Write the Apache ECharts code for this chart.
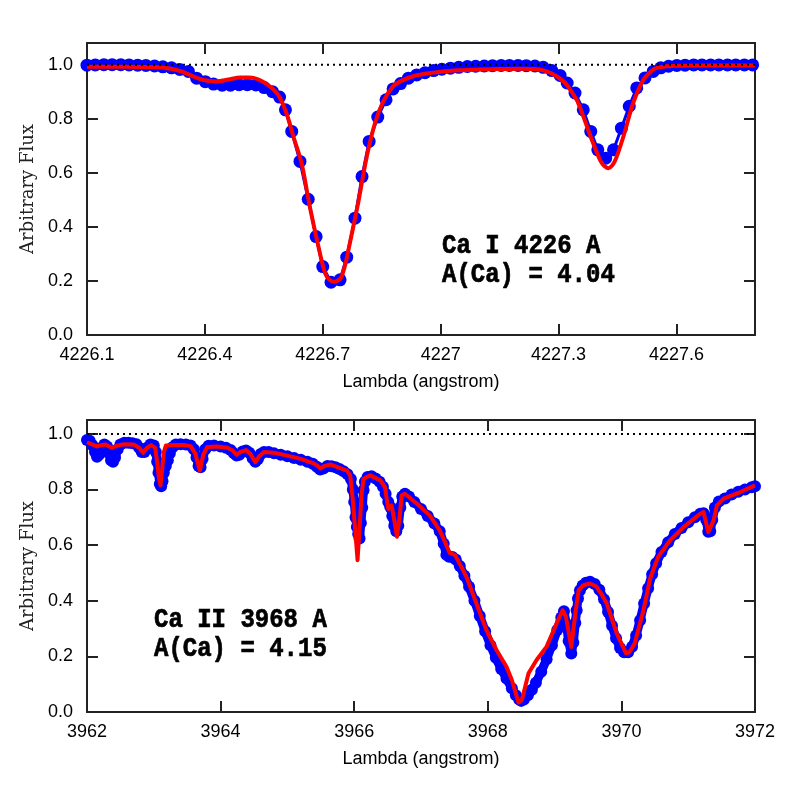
<!DOCTYPE html>
<html><head><meta charset="utf-8">
<script src="https://cdn.jsdelivr.net/npm/echarts@6/dist/echarts.min.js"></script>
<style>html,body{margin:0;padding:0;background:#fff}#c{width:797px;height:797px}</style>
</head><body><div id="c"></div>
<script>
// ---- Top panel: Ca I 4226 ----
const topObsX = [4226.100,4226.121,4226.143,4226.164,4226.186,4226.207,4226.229,4226.250,4226.272,4226.293,
4226.315,4226.336,4226.358,4226.379,4226.401,4226.422,4226.444,4226.465,4226.487,4226.508,
4226.530,4226.551,4226.572,4226.590,4226.605,4226.621,4226.642,4226.663,4226.683,4226.700,
4226.721,4226.744,4226.761,4226.782,4226.800,4226.818,4226.840,4226.861,4226.879,4226.898,
4226.918,4226.939,4226.960,4226.982,4227.003,4227.025,4227.046,4227.068,4227.089,4227.111,
4227.132,4227.154,4227.175,4227.197,4227.218,4227.240,4227.261,4227.283,4227.304,4227.322,
4227.342,4227.363,4227.382,4227.400,4227.420,4227.440,4227.460,4227.480,4227.499,4227.520,
4227.541,4227.560,4227.580,4227.601,4227.622,4227.644,4227.665,4227.687,4227.708,4227.730,
4227.751,4227.773,4227.794];
const topObsY = [0.998,0.999,1.000,1.000,1.000,0.999,0.998,0.997,0.995,0.992,
0.988,0.982,0.975,0.950,0.937,0.928,0.924,0.924,0.926,0.926,
0.925,0.915,0.900,0.880,0.833,0.753,0.642,0.502,0.364,0.253,
0.195,0.204,0.288,0.432,0.586,0.716,0.806,0.870,0.910,0.930,
0.950,0.962,0.970,0.978,0.983,0.987,0.990,0.993,0.994,0.995,
0.996,0.997,0.997,0.997,0.996,0.995,0.990,0.978,0.960,0.932,
0.895,0.833,0.753,0.685,0.654,0.685,0.765,0.846,0.914,0.951,
0.975,0.988,0.994,0.997,0.998,0.999,0.999,0.999,0.999,0.999,
0.999,0.999,0.999];
const topModX = [4226.10,4226.20,4226.28,4226.31,4226.34,4226.37,4226.40,4226.43,4226.46,4226.49,
4226.51,4226.53,4226.55,4226.57,4226.59,4226.61,4226.625,4226.646,4226.667,4226.689,
4226.706,4226.718,4226.729,4226.740,4226.748,4226.758,4226.769,4226.790,4226.812,4226.833,
4226.854,4226.879,4226.90,4226.93,4226.96,4227.00,4227.05,4227.10,4227.15,4227.20,
4227.24,4227.27,4227.295,4227.315,4227.33,4227.348,4227.363,4227.388,4227.41,4227.427,
4227.443,4227.465,4227.49,4227.516,4227.535,4227.55,4227.60,4227.80];
const topModY = [0.992,0.992,0.990,0.986,0.975,0.957,0.942,0.938,0.945,0.952,
0.952,0.948,0.935,0.914,0.880,0.810,0.735,0.636,0.475,0.327,
0.228,0.203,0.197,0.203,0.216,0.265,0.340,0.488,0.660,0.784,
0.864,0.920,0.940,0.957,0.966,0.974,0.979,0.982,0.984,0.985,
0.984,0.975,0.957,0.935,0.907,0.865,0.809,0.710,0.636,0.617,
0.642,0.734,0.858,0.944,0.975,0.988,0.996,0.997];

// ---- Bottom panel: Ca II 3968 ----
const botObsX = [3962.00,3962.04,3962.08,3962.12,3962.15,3962.18,3962.22,3962.26,3962.30,3962.33,
3962.36,3962.39,3962.42,3962.46,3962.50,3962.56,3962.62,3962.68,3962.74,3962.78,
3962.82,3962.86,3962.90,3962.95,3963.00,3963.03,3963.05,3963.07,3963.09,3963.11,
3963.13,3963.15,3963.18,3963.21,3963.24,3963.28,3963.33,3963.40,3963.48,3963.55,
3963.60,3963.64,3963.67,3963.70,3963.73,3963.77,3963.82,3963.90,3964.00,3964.08,
3964.15,3964.20,3964.24,3964.28,3964.33,3964.38,3964.43,3964.48,3964.52,3964.56,
3964.60,3964.65,3964.72,3964.80,3964.90,3965.00,3965.10,3965.20,3965.30,3965.38,
3965.44,3965.49,3965.54,3965.60,3965.66,3965.72,3965.78,3965.84,3965.90,3965.95,
3965.98,3966.00,3966.02,3966.04,3966.06,3966.08,3966.10,3966.12,3966.14,3966.16,
3966.20,3966.26,3966.32,3966.38,3966.43,3966.47,3966.51,3966.54,3966.57,3966.60,
3966.63,3966.66,3966.69,3966.72,3966.76,3966.82,3966.90,3967.00,3967.10,3967.20,
3967.28,3967.34,3967.38,3967.42,3967.47,3967.52,3967.58,3967.65,3967.72,3967.80,
3967.88,3967.96,3968.04,3968.12,3968.20,3968.28,3968.36,3968.42,3968.47,3968.50,
3968.54,3968.60,3968.66,3968.72,3968.80,3968.88,3968.96,3969.04,3969.10,3969.14,
3969.18,3969.21,3969.25,3969.28,3969.31,3969.33,3969.35,3969.38,3969.42,3969.47,
3969.53,3969.60,3969.67,3969.74,3969.80,3969.86,3969.92,3969.98,3970.04,3970.10,
3970.16,3970.22,3970.28,3970.34,3970.40,3970.46,3970.52,3970.60,3970.70,3970.80,
3970.90,3971.00,3971.10,3971.18,3971.23,3971.27,3971.30,3971.33,3971.36,3971.40,
3971.46,3971.55,3971.65,3971.75,3971.85,3971.95,3972.00];
const botObsY = [0.978,0.975,0.960,0.935,0.918,0.925,0.950,0.962,0.955,0.930,
0.905,0.900,0.915,0.945,0.962,0.968,0.968,0.966,0.963,0.950,
0.935,0.935,0.950,0.962,0.958,0.935,0.900,0.860,0.820,0.812,
0.830,0.860,0.885,0.905,0.930,0.952,0.962,0.963,0.962,0.958,
0.945,0.915,0.885,0.880,0.910,0.945,0.957,0.958,0.955,0.950,
0.942,0.930,0.922,0.925,0.937,0.940,0.932,0.912,0.900,0.910,
0.928,0.935,0.935,0.930,0.925,0.920,0.913,0.907,0.900,0.893,
0.882,0.872,0.876,0.885,0.884,0.880,0.874,0.866,0.855,0.838,
0.800,0.755,0.700,0.665,0.640,0.624,0.680,0.735,0.797,0.828,
0.845,0.848,0.840,0.828,0.810,0.785,0.755,0.737,0.705,0.670,
0.650,0.670,0.735,0.775,0.785,0.775,0.755,0.730,0.705,0.678,
0.650,0.605,0.565,0.558,0.557,0.548,0.525,0.490,0.450,0.400,
0.345,0.290,0.240,0.195,0.155,0.120,0.085,0.060,0.045,0.040,
0.045,0.060,0.080,0.105,0.145,0.190,0.240,0.295,0.340,0.362,
0.312,0.255,0.210,0.250,0.320,0.366,0.408,0.438,0.455,0.465,
0.468,0.460,0.440,0.405,0.360,0.310,0.265,0.230,0.215,0.215,
0.235,0.275,0.330,0.390,0.445,0.495,0.535,0.575,0.610,0.640,
0.662,0.682,0.700,0.713,0.715,0.690,0.648,0.650,0.690,0.735,
0.757,0.768,0.782,0.792,0.800,0.808,0.812];
const botModX = [3962.00,3962.08,3962.15,3962.22,3962.28,3962.33,3962.38,3962.45,3962.55,3962.70,
3962.78,3962.84,3962.90,3962.96,3963.02,3963.05,3963.08,3963.10,3963.12,3963.15,
3963.18,3963.30,3963.45,3963.55,3963.62,3963.69,3963.74,3963.80,3963.95,3964.10,
3964.18,3964.24,3964.30,3964.38,3964.44,3964.52,3964.58,3964.65,3964.80,3965.00,
3965.20,3965.38,3965.44,3965.49,3965.56,3965.64,3965.76,3965.89,3965.94,3965.98,
3966.02,3966.05,3966.08,3966.11,3966.14,3966.24,3966.39,3966.46,3966.51,3966.56,
3966.60,3966.64,3966.68,3966.71,3966.76,3966.94,3967.13,3967.28,3967.36,3967.43,
3967.51,3967.63,3967.68,3967.83,3967.98,3968.13,3968.28,3968.36,3968.46,3968.51,
3968.61,3968.73,3968.88,3969.03,3969.12,3969.17,3969.25,3969.31,3969.36,3969.43,
3969.53,3969.62,3969.70,3969.78,3969.93,3970.07,3970.12,3970.20,3970.33,3970.43,
3970.55,3970.73,3970.93,3971.18,3971.23,3971.30,3971.38,3971.43,3971.53,3971.78,
3972.00];
const botModY = [0.970,0.962,0.955,0.960,0.962,0.955,0.950,0.958,0.963,0.962,
0.950,0.932,0.950,0.960,0.950,0.900,0.835,0.815,0.860,0.935,
0.958,0.960,0.960,0.956,0.930,0.868,0.925,0.953,0.955,0.950,
0.940,0.925,0.935,0.942,0.930,0.898,0.920,0.935,0.932,0.922,
0.910,0.895,0.887,0.876,0.885,0.890,0.880,0.868,0.851,0.760,
0.640,0.546,0.660,0.780,0.839,0.851,0.833,0.809,0.730,0.743,
0.690,0.630,0.700,0.779,0.785,0.749,0.707,0.653,0.611,0.572,
0.564,0.510,0.486,0.390,0.294,0.223,0.163,0.115,0.034,0.043,
0.139,0.187,0.235,0.318,0.366,0.342,0.234,0.354,0.438,0.456,
0.462,0.452,0.425,0.390,0.283,0.211,0.215,0.247,0.366,0.480,
0.558,0.618,0.665,0.713,0.719,0.647,0.689,0.743,0.767,0.791,
0.815];

const continuum = [1.0, 1.0];
const topRange = [4226.1, 4227.8];
const botRange = [3962, 3972];
const topNote = ['Ca I 4226 A', 'A(Ca) = 4.04'];
const botNote = ['Ca II 3968 A', 'A(Ca) = 4.15'];
const xTitle = 'Lambda (angstrom)';
const yTitle = 'Arbitrary Flux';

const zip = (xs, ys) => xs.map((x, i) => [x, ys[i]]);

const AX = '#222';
function xAx(gi, range, interval, fmt, pos, main, showMax) {
  return {
    type: 'value', gridIndex: gi, position: pos, min: range[0], max: range[1], interval: interval,
    axisLine: { show: true, onZero: false, lineStyle: { color: AX, width: 2 } },
    axisTick: { show: true, inside: true, length: 11, lineStyle: { color: AX, width: 2 } },
    axisLabel: { show: main, formatter: fmt, color: '#000', fontSize: 18, fontFamily: 'Liberation Sans',
                 margin: 11, showMaxLabel: showMax, showMinLabel: true },
    splitLine: { show: false },
    name: main ? xTitle : '', nameLocation: 'middle', nameGap: 38,
    nameTextStyle: { color: '#000', fontSize: 18, fontFamily: 'Liberation Sans' }
  };
}
function yAx(gi, max, pos, main) {
  return {
    type: 'value', gridIndex: gi, position: pos, min: 0, max: max, interval: 0.2,
    axisLine: { show: true, onZero: false, lineStyle: { color: AX, width: 2 } },
    axisTick: { show: true, inside: true, length: 11, lineStyle: { color: AX, width: 2 } },
    axisLabel: { show: main, formatter: v => v.toFixed(1), color: '#000', fontSize: 18,
                 fontFamily: 'Liberation Sans', margin: 14, showMaxLabel: false },
    splitLine: { show: false },
    name: main ? yTitle : '', nameLocation: 'middle', nameGap: 50, nameRotate: 90,
    nameTextStyle: { color: '#222', fontSize: 18, fontFamily: 'DejaVu Serif' }
  };
}
const fmtTop = v => String(+(+v).toFixed(1));
const fmtBot = v => String(Math.round(v));

const chart = echarts.init(document.getElementById('c'), null, { renderer: 'canvas' });
const noteFont = 'bold 24px "Liberation Mono"';
const noteText = (x, y, t) => ({ type: 'text', x: x, y: y, scaleY: 1.15,
  style: { text: t, font: noteFont, fill: '#000', verticalAlign: 'middle', stroke: '#000', lineWidth: 0.6 } });
chart.setOption({
  animation: false,
  backgroundColor: '#fff',
  grid: [
    { left: 87, top: 43, width: 668, height: 292, containLabel: false },
    { left: 87, top: 420, width: 668, height: 292, containLabel: false }
  ],
  xAxis: [
    xAx(0, topRange, 0.3, fmtTop, 'bottom', true, false),
    xAx(0, topRange, 0.3, fmtTop, 'top', false, false),
    xAx(1, botRange, 2, fmtBot, 'bottom', true, true),
    xAx(1, botRange, 2, fmtBot, 'top', false, true)
  ],
  yAxis: [
    yAx(0, 1.08, 'left', true),
    yAx(0, 1.08, 'right', false),
    yAx(1, 1.05, 'left', true),
    yAx(1, 1.05, 'right', false)
  ],
  series: [
    { type: 'line', xAxisIndex: 0, yAxisIndex: 0, data: zip(topObsX, topObsY), clip: false,
      symbol: 'circle', symbolSize: 13, showSymbol: true, showAllSymbol: true,
      itemStyle: { color: '#0000ff' }, lineStyle: { color: '#0000ff', width: 3 }, silent: true, z: 2 },
    { type: 'line', xAxisIndex: 0, yAxisIndex: 0, data: zip(topModX, topModY), showSymbol: false,
      smooth: 0.3, lineStyle: { color: '#ff0000', width: 4 }, silent: true, z: 3 },
    { type: 'line', xAxisIndex: 0, yAxisIndex: 0, data: zip(topRange, continuum), showSymbol: false,
      lineStyle: { color: '#000', width: 2, type: [2, 4] }, silent: true, z: 4 },

    { type: 'line', xAxisIndex: 2, yAxisIndex: 2, data: zip(botObsX, botObsY), clip: false,
      symbol: 'circle', symbolSize: 12, showSymbol: true, showAllSymbol: true,
      itemStyle: { color: '#0000ff' }, lineStyle: { color: '#0000ff', width: 9, cap: 'round', join: 'round' },
      silent: true, z: 2 },
    { type: 'line', xAxisIndex: 2, yAxisIndex: 2, data: zip(botModX, botModY), showSymbol: false,
      lineStyle: { color: '#ff0000', width: 4, join: 'round' }, silent: true, z: 3 },
    { type: 'line', xAxisIndex: 2, yAxisIndex: 2, data: zip(botRange, continuum), showSymbol: false,
      lineStyle: { color: '#000', width: 2, type: [2, 4] }, silent: true, z: 4 }
  ],
  graphic: [
    noteText(442, 246.5, topNote[0]),
    noteText(442, 275, topNote[1]),
    noteText(154, 620.5, botNote[0]),
    noteText(154, 649, botNote[1])
  ]
});
</script></body></html>
